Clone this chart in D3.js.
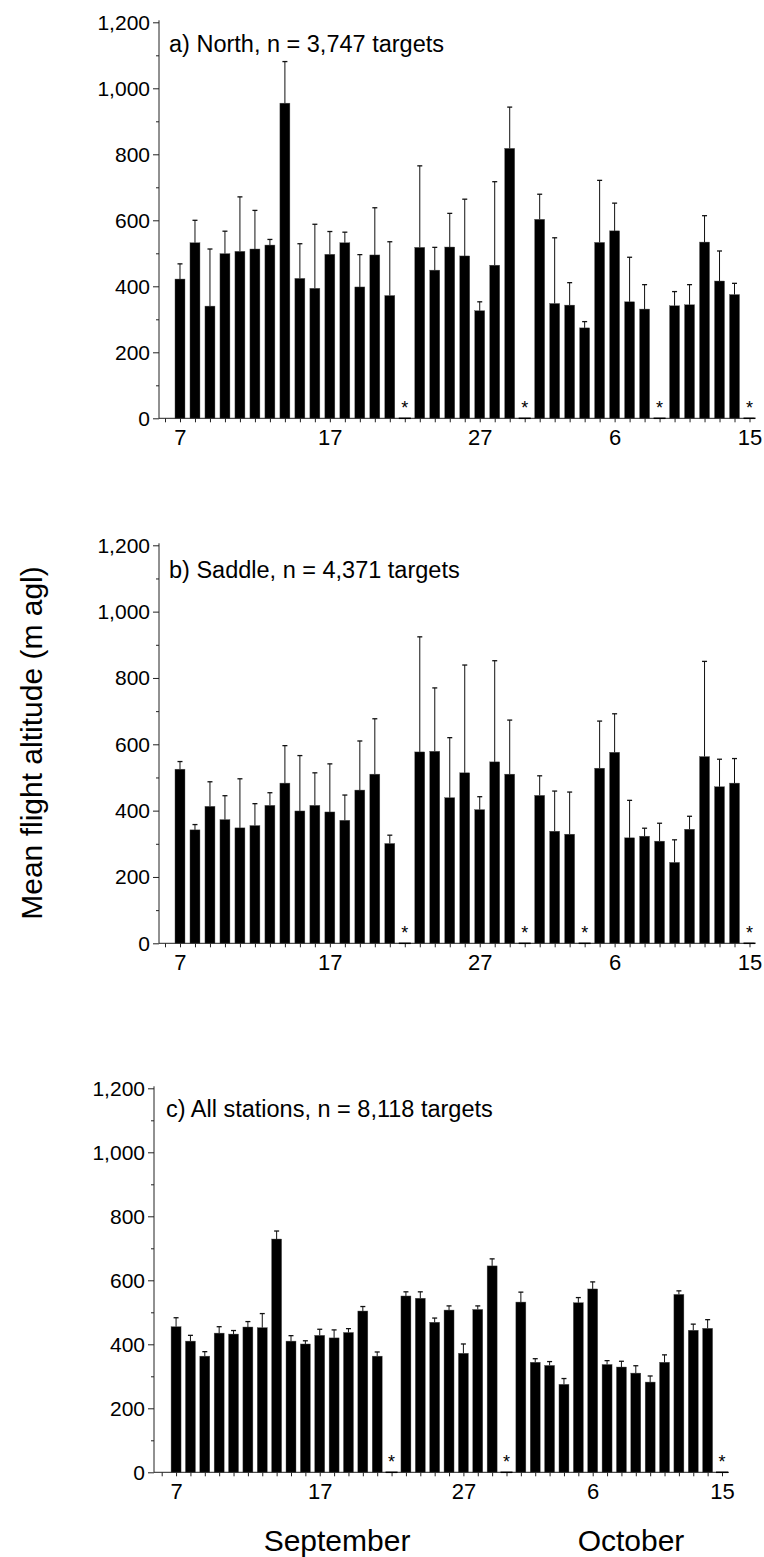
<!DOCTYPE html>
<html>
<head>
<meta charset="utf-8">
<script src="https://cdn.jsdelivr.net/npm/d3@7"></script>
<style>
  html, body { margin: 0; padding: 0; background: #fff; }
  svg { display: block; font-family: "Liberation Sans", Arial, Helvetica, sans-serif; }
</style>
</head>
<body>
<svg id="chart" width="764" height="1557"></svg>
<script>
// ---- Data ----
// Day categories: Sep 6 .. Oct 15 (Sep 6 is an empty leading slot)
const dayKeys = ["S6","S7","S8","S9","S10","S11","S12","S13","S14","S15","S16","S17","S18","S19","S20",
  "S21","S22","S23","S24","S25","S26","S27","S28","S29","S30",
  "O1","O2","O3","O4","O5","O6","O7","O8","O9","O10","O11","O12","O13","O14","O15"];
const dayTickLabels = {"S7":"7","S17":"17","S27":"27","O6":"6","O15":"15"};
const monthLabels = ["September", "October"];

const panelTitles = [
  "a) North, n = 3,747 targets",
  "b) Saddle, n = 4,371 targets",
  "c) All stations, n = 8,118 targets"
];

// Mean flight altitude (m agl); null = no bar
const northMean = [null,
  422,532,340,499,506,513,525,955,424,394,497,532,398,495,372,null,518,449,519,492,326,464,818,null,
  603,348,343,274,533,568,353,331,null,341,344,534,416,375,null];
const northSE = [null,
  46,68,173,68,165,117,17,126,105,194,69,32,98,143,163,null,247,69,102,172,27,253,125,null,
  76,199,68,19,188,84,135,74,null,43,61,80,91,34,null];
const northNoData = ["S22","S30","O9","O15"];

const saddleMean = [null,
  525,342,413,373,348,355,416,483,399,416,396,371,462,510,301,null,577,579,439,514,403,547,510,null,
  446,338,329,null,528,576,318,323,308,244,344,563,472,483,null];
const saddleSE = [null,
  23,16,74,72,148,66,38,113,167,98,145,76,148,167,25,null,347,191,181,325,39,305,163,null,
  59,121,127,null,142,116,113,24,54,68,39,287,83,74,null];
const saddleNoData = ["S22","S30","O4","O15"];

const allMean = [null,
  455,410,363,435,432,454,452,729,410,401,428,420,437,504,363,null,551,544,469,507,372,509,645,null,
  532,344,334,275,530,573,337,329,310,282,344,556,444,450,null];
const allSE = [null,
  28,18,14,20,11,17,44,25,17,10,19,25,12,14,13,null,13,20,13,13,29,11,22,null,
  31,11,12,18,16,22,12,18,23,19,23,11,19,27,null];
const allNoData = ["S22","S30","O15"];

const yMajorTicks = [0,200,400,600,800,1000,1200];
const yMinorTicks = [100,300,500,700,900,1100];
const yTitle = "Mean flight altitude (m agl)";

// ---- Layout ----
const layouts = [
  {axisX:159, xStart:165, xEnd:749.5, axisEnd:754, y0:418.3, y1:22.3, titleX:169, titleY:52},
  {axisX:159, xStart:165, xEnd:749.5, axisEnd:754, y0:943.3, y1:545.3, titleX:169, titleY:578},
  {axisX:154, xStart:161.7, xEnd:722, axisEnd:729, y0:1472.3, y1:1088.3, titleX:166, titleY:1117}
];
const series = [
  {mean: northMean, se: northSE, none: northNoData},
  {mean: saddleMean, se: saddleSE, none: saddleNoData},
  {mean: allMean, se: allSE, none: allNoData}
];

const svg = d3.select("#chart");
const FONT = '"Liberation Sans", Arial, Helvetica, sans-serif';
const barW = 10;

series.forEach((s, i) => {
  const L = layouts[i];
  const g = svg.append("g");
  const x = d3.scalePoint().domain(dayKeys).range([L.xStart, L.xEnd]);
  const y = d3.scaleLinear().domain([0, 1200]).range([L.y0, L.y1]);

  const rows = dayKeys.map((k, j) => ({key: k, mean: s.mean[j], se: s.se[j]}))
    .filter(d => d.mean != null);

  // bars
  g.selectAll("rect.bar").data(rows).enter().append("rect")
    .attr("class", "bar")
    .attr("x", d => x(d.key) - barW / 2)
    .attr("width", barW)
    .attr("y", d => y(d.mean))
    .attr("height", d => y(0) - y(d.mean))
    .attr("fill", "#000")
    .attr("stroke", "#555")
    .attr("stroke-width", 0.4);

  // error bars (upper only)
  const eg = g.append("g").attr("stroke", "#111").attr("stroke-width", 1).attr("fill", "none");
  eg.selectAll("line.v").data(rows).enter().append("line")
    .attr("x1", d => x(d.key)).attr("x2", d => x(d.key))
    .attr("y1", d => y(d.mean)).attr("y2", d => y(d.mean + d.se));
  eg.selectAll("line.c").data(rows).enter().append("line")
    .attr("stroke-width", 1.3)
    .attr("x1", d => x(d.key) - 2.5).attr("x2", d => x(d.key) + 2.5)
    .attr("y1", d => y(d.mean + d.se)).attr("y2", d => y(d.mean + d.se));

  // y axis
  const yAx = g.append("g").attr("transform", `translate(${L.axisX},0)`)
    .call(d3.axisLeft(y).tickValues(yMajorTicks).tickSize(6).tickSizeOuter(0)
      .tickPadding(3).tickFormat(d3.format(",")));
  yAx.selectAll("text").attr("font-size", 21).attr("font-family", FONT).attr("fill", "#000");
  yAx.selectAll("line, path").attr("stroke", "#222");
  yAx.select("path.domain").attr("d", `M0,${L.y0}V${L.y1 - 2}`);
  const yMin = g.append("g").attr("transform", `translate(${L.axisX},0)`)
    .call(d3.axisLeft(y).tickValues(yMinorTicks).tickSize(3).tickFormat(""));
  yMin.select("path.domain").remove();
  yMin.selectAll("line").attr("stroke", "#222");

  // x axis
  const xAx = g.append("g").attr("transform", `translate(0,${L.y0})`)
    .call(d3.axisBottom(x).tickSize(4).tickPadding(7.5).tickFormat(d => dayTickLabels[d] || ""));
  xAx.select("path.domain").remove();
  xAx.selectAll("line").attr("stroke", "#222");
  xAx.selectAll("text").attr("font-size", 22).attr("font-family", FONT).attr("fill", "#000");
  g.append("line")
    .attr("x1", L.axisX).attr("x2", L.axisEnd)
    .attr("y1", L.y0).attr("y2", L.y0)
    .attr("stroke", "#222").attr("stroke-width", 1);

  // no-data markers
  g.selectAll("line.nd").data(s.none).enter().append("line")
    .attr("x1", d => x(d) - barW / 2 - 1).attr("x2", d => x(d) + barW / 2 + 1)
    .attr("y1", L.y0).attr("y2", L.y0)
    .attr("stroke", "#000").attr("stroke-width", 1.5);
  g.selectAll("text.star").data(s.none).enter().append("text")
    .attr("x", d => x(d)).attr("y", L.y0 - 4)
    .attr("text-anchor", "middle")
    .attr("font-size", 18).attr("font-family", FONT)
    .text("*");

  // panel title
  g.append("text")
    .attr("x", L.titleX).attr("y", L.titleY)
    .attr("font-size", 23.5).attr("font-family", FONT)
    .text(panelTitles[i]);
});

// y title
svg.append("text")
  .attr("transform", "translate(42,743) rotate(-90)")
  .attr("text-anchor", "middle")
  .attr("font-size", 30).attr("font-family", FONT)
  .text(yTitle);

// month labels
svg.append("text").attr("x", 337).attr("y", 1551).attr("text-anchor", "middle")
  .attr("font-size", 30).attr("font-family", FONT).text(monthLabels[0]);
svg.append("text").attr("x", 631).attr("y", 1551).attr("text-anchor", "middle")
  .attr("font-size", 30).attr("font-family", FONT).text(monthLabels[1]);
</script>
</body>
</html>
